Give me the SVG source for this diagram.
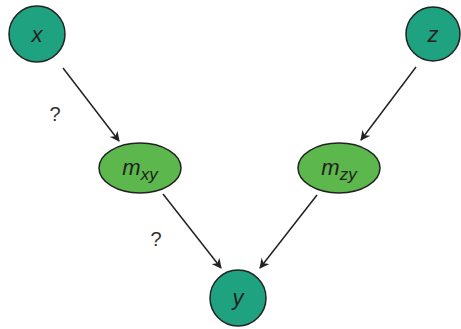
<svg xmlns="http://www.w3.org/2000/svg" width="461" height="329" viewBox="0 0 461 329">
<style>
.c{fill:#1fa27f;stroke:#222;stroke-width:1.5}
.e{fill:#5cb84c;stroke:#222;stroke-width:1.5}
.t{font-family:"Liberation Sans",Arial,sans-serif;font-style:italic;font-size:22px;fill:#222;text-anchor:middle}
.s{font-size:17px}
.q{font-family:"Liberation Sans",Arial,sans-serif;font-size:20px;fill:#333;text-anchor:middle}
.l{stroke:#222;stroke-width:1.5;fill:none;marker-end:url(#a)}
</style>
<defs>
<marker id="a" viewBox="0 0 10 10" refX="9" refY="5" markerWidth="10" markerHeight="10" markerUnits="userSpaceOnUse" orient="auto">
<path d="M0,0 L10,5 L0,10 L3,5 Z" fill="#222"/>
</marker>
</defs>
<g id="connectors">
<line class="l" x1="63" y1="68" x2="119" y2="141"/>
<line class="l" x1="416" y1="67" x2="361" y2="140"/>
<line class="l" x1="163" y1="194" x2="221" y2="268"/>
<line class="l" x1="317" y1="195" x2="260" y2="268"/>
</g>
<g id="x"><circle class="c" cx="37" cy="34" r="28"/><text class="t" x="37" y="42">x</text></g>
<g id="z"><circle class="c" cx="433" cy="34" r="27"/><text class="t" x="433" y="42">z</text></g>
<g id="mxy"><ellipse class="e" cx="140" cy="168" rx="41" ry="25"/><text class="t" x="140" y="175">m<tspan class="s" dy="5">xy</tspan></text></g>
<g id="mzy"><ellipse class="e" cx="339" cy="168" rx="41" ry="25"/><text class="t" x="339" y="175">m<tspan class="s" dy="5">zy</tspan></text></g>
<g id="y"><circle class="c" cx="238" cy="298" r="28"/><text class="t" x="238" y="305">y</text></g>
<text class="q" x="55" y="121">?</text>
<text class="q" x="156" y="246">?</text>
</svg>
